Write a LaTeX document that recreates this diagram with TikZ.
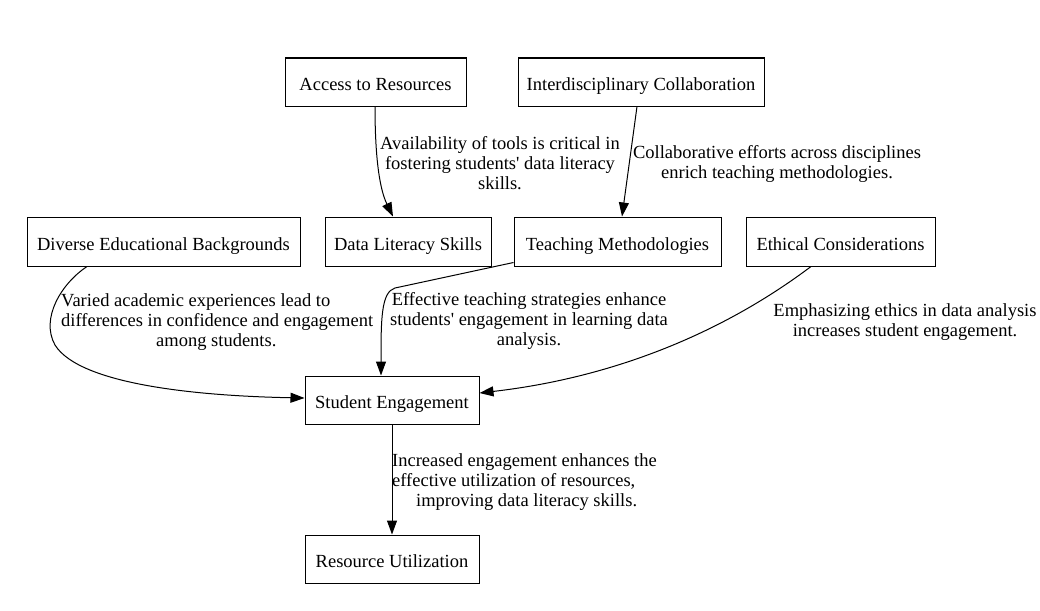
\documentclass[tikz,border=0pt]{standalone}
\usepackage{fontspec}
\setmainfont{Liberation Serif}
\usetikzlibrary{arrows.meta}
\begin{document}
\begin{tikzpicture}[x=1pt,y=-1pt,
  box/.style={draw,line width=1pt,minimum height=48pt,inner sep=0pt,text height=18pt,text depth=1pt,font=\fontsize{18.5}{20}\selectfont},
  lbl/.style={inner sep=0pt,font=\fontsize{18.5}{20}\selectfont,align=center},
  lbll/.style={inner sep=0pt,font=\fontsize{18.5}{20}\selectfont,align=left,anchor=west},
  edge/.style={line width=1pt,-{Triangle[length=14pt,width=10pt]}}]
\useasboundingbox (0,0) rectangle (1040,610);
\node[box,minimum width=181pt] (acc) at (375.5,82) {Access to Resources};
\node[box,minimum width=246pt] (inter) at (641,82) {Interdisciplinary Collaboration};
\node[box,minimum width=273pt,minimum height=49pt] (div) at (163.5,241.5) {Diverse Educational Backgrounds};
\node[box,minimum width=166pt,minimum height=49pt] (dls) at (408,241.5) {Data Literacy Skills};
\node[box,minimum width=207pt,minimum height=49pt] (teach) at (617.5,241.5) {Teaching Methodologies};
\node[box,minimum width=189pt,minimum height=49pt] (eth) at (840.5,241.5) {Ethical Considerations};
\node[box,minimum width=174pt] (se) at (392,400) {Student Engagement};
\node[box,minimum width=174pt] (ru) at (392,559) {Resource Utilization};

\draw[edge] (acc.south -| 375,0) .. controls (375,160) and (380,190) .. (dls.north -| 393,0);
\node[lbl] (l1) at (500,163) {Availability of tools is critical in\\fostering students\textquotesingle\ data literacy\\skills.};

\draw[edge] (inter.south -| 637,0) -- (teach.north -| 622,0);
\node[lbl] (l2) at (777,164) {Collaborative efforts across disciplines\\enrich teaching methodologies.};

\draw[edge] (div.south -| 87,0) .. controls (62,283) and (40,318) .. (55,345) .. controls (80,385) and (200,396) .. (se.west |- 0,398);
\node[lbll] (l3) at (61,322) {Varied academic experiences lead to\\differences in confidence and engagement\\\hspace*{95pt}among students.};

\draw[edge] (teach.south west) ++(0,-4) coordinate (tstart) (tstart) -- (395,288) .. controls (381,292) and (381,320) .. (se.north -| 381,0);
\node[lbl] (l4) at (529,321) {Effective teaching strategies enhance\\students\textquotesingle\ engagement in learning data\\analysis.};

\draw[edge] (eth.south -| 811,0) .. controls (720,335) and (610,378) .. (se.east |- 0,393);
\node[lbl] (l5) at (905,322) {Emphasizing ethics in data analysis\\increases student engagement.};

\draw[edge] (se) -- (ru);
\node[lbll] (l6) at (392,482) {Increased engagement enhances the\\effective utilization of resources,\\\hspace*{24pt}improving data literacy skills.};
\end{tikzpicture}
\end{document}
